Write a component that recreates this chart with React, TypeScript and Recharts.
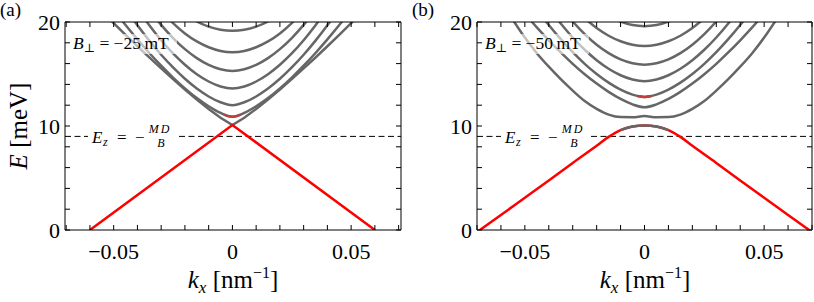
import React from "react";
import { LineChart, Line, XAxis, YAxis, ReferenceLine } from "recharts";

const FONT = "'Liberation Serif', 'DejaVu Serif', serif";
const GRAY = "#666666";
const RED = "#ff0000";
const DARK_RED = "#c43c3c";

// shared k grid for the gray bands (nm^-1)
const kGrid = [-0.055, -0.05, -0.045, -0.04, -0.035, -0.03, -0.025, -0.02, -0.015, -0.01, -0.005, 0, 0.005, 0.01, 0.015, 0.02, 0.025, 0.03, 0.035, 0.04, 0.045, 0.05, 0.055];

const xTicks = [-0.07, -0.06, -0.05, -0.04, -0.03, -0.02, -0.01, 0, 0.01, 0.02, 0.03, 0.04, 0.05, 0.06, 0.07];
const yTicks = [0, 2, 4, 6, 8, 10, 12, 14, 16, 18, 20];
const xTickLabels: Record<string, string> = { "-0.05": "\u22120.05", "0": "0", "0.05": "0.05" };
const yTickLabels: Record<string, string> = { "0": "0", "10": "10", "20": "20" };
const ezLevel = 9;

// ---- panel (a): B = -25 mT ----
const bandA1 = [21.0, 19.89, 18.77, 17.67, 16.59, 15.54, 14.51, 13.51, 12.55, 11.64, 10.79, 10.1, 10.79, 11.64, 12.55, 13.51, 14.51, 15.54, 16.59, 17.67, 18.77, 19.89, 21.0];
const bandA2 = [null, 21.17, 19.71, 18.33, 17.02, 15.8, 14.66, 13.62, 12.69, 11.9, 11.26, 10.9, 11.26, 11.9, 12.69, 13.62, 14.66, 15.8, 17.02, 18.33, 19.71, 21.17, null];
const bandA3 = [null, null, 21.29, 19.69, 18.21, 16.85, 15.63, 14.54, 13.6, 12.84, 12.28, 12.0, 12.28, 12.84, 13.6, 14.54, 15.63, 16.85, 18.21, 19.69, 21.29, null, null];
const bandA4 = [null, null, null, 21.3, 19.69, 18.25, 16.98, 15.89, 14.98, 14.28, 13.8, 13.6, 13.8, 14.28, 14.98, 15.89, 16.98, 18.25, 19.69, 21.3, null, null, null];
const bandA5 = [null, null, null, null, 21.18, 19.72, 18.46, 17.39, 16.53, 15.88, 15.46, 15.3, 15.46, 15.88, 16.53, 17.39, 18.46, 19.72, 21.18, null, null, null, null];
const bandA6 = [null, null, null, null, null, 21.08, 19.89, 18.9, 18.13, 17.57, 17.22, 17.1, 17.22, 17.57, 18.13, 18.9, 19.89, 21.08, null, null, null, null, null];
const bandA7 = [null, null, null, null, null, null, null, 20.77, 20.06, 19.55, 19.25, 19.15, 19.25, 19.55, 20.06, 20.77, null, null, null, null, null, null, null];
const redAK = [-0.06, 0, 0.06];
const redAE = [0, 10.1, 0];
const redBitAK = [-0.0035, -0.0015, 0, 0.0015, 0.0035];
const redBitAE = [11.08, 10.93, 10.9, 10.93, 11.08];

// ---- panel (b): B = -50 mT ----
const bandB2 = [20.2, 18.5, 17.0, 15.7, 14.5, 13.4, 12.4, 11.65, 11.1, 10.86, 10.85, 10.95, 10.85, 10.86, 11.1, 11.65, 12.4, 13.4, 14.5, 15.7, 17.0, 18.5, 20.2];
const bandB3 = [null, 20.8, 19.48, 18.24, 17.07, 15.98, 14.98, 14.08, 13.28, 12.6, 12.08, 11.8, 12.08, 12.6, 13.28, 14.08, 14.98, 15.98, 17.07, 18.24, 19.48, 20.8, null];
const bandB4 = [null, null, 21.2, 19.71, 18.35, 17.1, 15.98, 15.0, 14.17, 13.5, 13.02, 12.8, 13.02, 13.5, 14.17, 15.0, 15.98, 17.1, 18.35, 19.71, 21.2, null, null];
const bandB5 = [null, null, null, 21.37, 19.86, 18.51, 17.33, 16.33, 15.51, 14.88, 14.47, 14.3, 14.47, 14.88, 15.51, 16.33, 17.33, 18.51, 19.86, 21.37, null, null, null];
const bandB6 = [null, null, null, null, 21.46, 20.05, 18.84, 17.82, 17.01, 16.41, 16.04, 15.9, 16.04, 16.41, 17.01, 17.82, 18.84, 20.05, 21.46, null, null, null, null];
const bandB7 = [null, null, null, null, null, null, 20.36, 19.42, 18.68, 18.15, 17.82, 17.7, 17.82, 18.15, 18.68, 19.42, 20.36, null, null, null, null, null, null];
const bandB8 = [null, null, null, null, null, null, null, null, 20.6, 20.04, 19.71, 19.6, 19.71, 20.04, 20.6, null, null, null, null, null, null, null, null];
const redBK = [-0.0688, -0.06, -0.05, -0.04, -0.03, -0.02, -0.015, -0.01, -0.005, 0, 0.005, 0.01, 0.015, 0.02, 0.03, 0.04, 0.05, 0.06, 0.0688];
const redBE = [0, 1.45, 3.1, 4.75, 6.45, 8.1, 8.95, 9.6, 9.95, 10.05, 9.95, 9.6, 8.95, 8.1, 6.45, 4.75, 3.1, 1.45, 0];
const capBK = [-0.01, -0.005, 0, 0.005, 0.01];
const capBE = [9.6, 9.95, 10.05, 9.95, 9.6];
const redBitBK = [-0.003, 0, 0.003];
const redBitBE = [12.88, 12.8, 12.88];

type Series = { k: number[]; e: (number | null)[]; color: string; linear?: boolean; width?: number };

const fmtX = (v: number) => {
  const key = String(Math.round(v * 1000) / 1000);
  return xTickLabels[key] ?? "";
};
const fmtY = (v: number) => yTickLabels[String(v)] ?? "";

function Panel(props: { left: number; width: number; plotLeft: number; plotRight: number; domX: [number, number]; series: Series[] }) {
  const { left, width, plotLeft, plotRight, domX, series } = props;
  const axisStyle = { stroke: "#000", strokeWidth: 1 };
  const yAxisW = plotLeft - 4;
  return (
    <div style={{ position: "absolute", left, top: 0 }}>
      <LineChart width={width} height={302} margin={{ top: 21, right: width - plotRight - 1, bottom: 32, left: 4 }}>
        <XAxis xAxisId="b" type="number" dataKey="k" domain={domX} allowDataOverflow ticks={xTicks} interval={0}
          tickFormatter={fmtX} tickSize={-5} tickMargin={18} height={40} axisLine={axisStyle} tickLine={axisStyle}
          tick={{ fontSize: 22, fill: "#000", fontFamily: FONT }} />
        <XAxis xAxisId="t" orientation="top" type="number" dataKey="k" domain={domX} allowDataOverflow ticks={xTicks} interval={0}
          tickFormatter={() => ""} tickSize={-5} height={1} axisLine={axisStyle} tickLine={axisStyle} />
        <YAxis yAxisId="l" type="number" domain={[0, 20]} allowDataOverflow ticks={yTicks} interval={0}
          tickFormatter={fmtY} tickSize={-5} tickMargin={10} width={yAxisW} axisLine={axisStyle} tickLine={axisStyle}
          tick={{ fontSize: 22, fill: "#000", fontFamily: FONT }} />
        <YAxis yAxisId="r" orientation="right" type="number" domain={[0, 20]} allowDataOverflow ticks={yTicks} interval={0}
          tickFormatter={() => ""} tickSize={-5} width={1} axisLine={axisStyle} tickLine={axisStyle} />
        <ReferenceLine xAxisId="b" yAxisId="l" y={ezLevel} stroke="#000" strokeWidth={1} strokeDasharray="6 3.5" />
        {series.map((s, i) => (
          <Line key={i} xAxisId="b" yAxisId="l" data={s.k.map((k, j) => ({ k, E: s.e[j] }))} dataKey="E"
            type={s.linear ? "linear" : "monotone"} stroke={s.color} strokeWidth={s.width ?? 2.5} dot={false} activeDot={false}
            isAnimationActive={false} connectNulls={false} />
        ))}
      </LineChart>
    </div>
  );
}

const seriesA: Series[] = [
  { k: kGrid, e: bandA1, color: GRAY, linear: true },
  { k: kGrid, e: bandA2, color: GRAY },
  { k: kGrid, e: bandA3, color: GRAY },
  { k: kGrid, e: bandA4, color: GRAY },
  { k: kGrid, e: bandA5, color: GRAY },
  { k: kGrid, e: bandA6, color: GRAY },
  { k: kGrid, e: bandA7, color: GRAY },
  { k: redAK, e: redAE, color: RED, linear: true },
  { k: redBitAK, e: redBitAE, color: DARK_RED, width: 2.2 },
];

const seriesB: Series[] = [
  { k: kGrid, e: bandB2, color: GRAY },
  { k: kGrid, e: bandB3, color: GRAY },
  { k: kGrid, e: bandB4, color: GRAY },
  { k: kGrid, e: bandB5, color: GRAY },
  { k: kGrid, e: bandB6, color: GRAY },
  { k: kGrid, e: bandB7, color: GRAY },
  { k: kGrid, e: bandB8, color: GRAY },
  { k: redBK, e: redBE, color: RED },
  { k: capBK, e: capBE, color: GRAY },
  { k: redBitBK, e: redBitBE, color: DARK_RED },
];

function FieldLabel({ x, text }: { x: number; text: string }) {
  return (
    <g>
      <rect x={x - 2} y={34} width={106} height={20} fill="#fff" fillOpacity={0.6} />
      <text x={x} y={49} fontFamily={FONT} fontSize={17.5} fill="#000">
        <tspan fontStyle="italic">B</tspan>
        <tspan fontSize={12} dy={3}>{"\u22A5"}</tspan>
        <tspan dy={-3}>{" = \u2212" + text + "\u2009mT"}</tspan>
      </text>
    </g>
  );
}

function EzLabel({ x }: { x: number }) {
  const fx = x + 68;
  return (
    <g fontFamily={FONT} fill="#000">
      <rect x={x - 4} y={124} width={88} height={26} fill="#fff" />
      <text y={143} fontSize={17}>
        <tspan x={x} fontStyle="italic">E</tspan>
        <tspan x={x + 11} dy={3} fontSize={12} fontStyle="italic">z</tspan>
        <tspan x={x + 25} dy={-3}>=</tspan>
        <tspan x={x + 43}>{"\u2212"}</tspan>
      </text>
      <text x={fx} y={133} fontSize={12} textAnchor="middle" fontStyle="italic" letterSpacing={2}>MD</text>
      <text x={fx + 1} y={147} fontSize={12} textAnchor="middle" fontStyle="italic">B</text>
    </g>
  );
}

function XTitle({ cx }: { cx: number }) {
  return (
    <text x={cx} y={288} fontFamily={FONT} fontSize={25} textAnchor="middle" fill="#000">
      <tspan fontStyle="italic">k</tspan>
      <tspan fontSize={17} dy={5} fontStyle="italic">x</tspan>
      <tspan dy={-5}>{" [nm"}</tspan>
      <tspan fontSize={16} dy={-10}>{"\u22121"}</tspan>
      <tspan dy={10}>]</tspan>
    </text>
  );
}

export default function App() {
  return (
    <div style={{ position: "absolute", left: 0, top: 0, width: 814, height: 302, background: "#fff", overflow: "hidden" }}>
      <Panel left={0} width={410} plotLeft={65} plotRight={401} domX={[-0.0705, 0.071]} series={seriesA} />
      <Panel left={405} width={409} plotLeft={72} plotRight={407} domX={[-0.07, 0.07]} series={seriesB} />
      <svg width={814} height={302} style={{ position: "absolute", left: 0, top: 0, pointerEvents: "none" }}>
        <text x={0} y={16} fontFamily={FONT} fontSize={19} fill="#000">(a)</text>
        <text x={412} y={16} fontFamily={FONT} fontSize={19} fill="#000">(b)</text>
        <FieldLabel x={73} text="25" />
        <FieldLabel x={485} text="50" />
        <EzLabel x={92} />
        <EzLabel x={505} />
        <XTitle cx={233} />
        <XTitle cx={645} />
        <text transform="translate(27,126) rotate(-90)" fontFamily={FONT} fontSize={25} textAnchor="middle" fill="#000">
          <tspan fontStyle="italic">E</tspan> [meV]
        </text>
      </svg>
    </div>
  );
}
